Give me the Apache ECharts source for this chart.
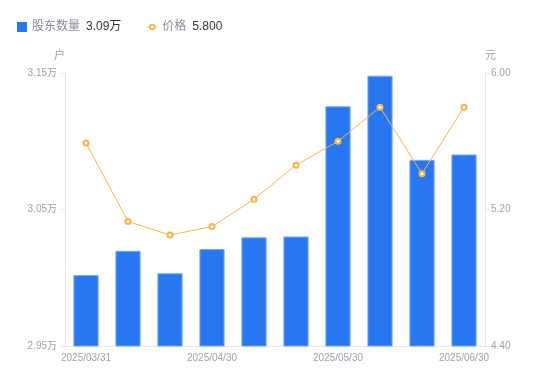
<!DOCTYPE html>
<html>
<head>
<meta charset="utf-8">
<script src="https://cdn.jsdelivr.net/npm/echarts@6/dist/echarts.min.js"></script>
<style>html,body{margin:0;padding:0;background:#fff}#c{width:550px;height:381px}</style>
</head>
<body>
<div id="c"></div>
<script>
var categories = ['2025/03/31','2025/04/10','2025/04/18','2025/04/30','2025/05/09','2025/05/20','2025/05/30','2025/06/10','2025/06/20','2025/06/30'];
var holders = [3.002, 3.0197, 3.0033, 3.021, 3.0296, 3.0302, 3.1256, 3.148, 3.0864, 3.0903];
var prices = [5.59, 5.13, 5.05, 5.10, 5.26, 5.46, 5.60, 5.80, 5.41, 5.80];
var holderTicks = [2.95, 3.15, 0.1];
var priceTicks = [4.4, 6.0, 0.8];
var legendValues = {'股东数量': '3.09万', '价格': '5.800'};

var FONT = '"Liberation Sans", "Noto Sans CJK SC", sans-serif';
var lineIcon = 'path://M0,2.5 H2.2 V3.5 H0 Z M7.8,2.5 H10 V3.5 H7.8 Z M1.8,3 A3.2,3.2 0 1,1 8.2,3 A3.2,3.2 0 1,1 1.8,3 Z M3.4,3 A1.6,1.6 0 1,0 6.6,3 A1.6,1.6 0 1,0 3.4,3 Z';

var chart = echarts.init(document.getElementById('c'), null, {renderer: 'canvas'});
var gray = '#9ea1ad';
chart.setOption({
  animation: false,
  legend: {
    left: 12, top: 16,
    itemWidth: 10, itemHeight: 10, itemGap: 26,
    itemStyle: {borderWidth: 0},
    data: [{name: '股东数量', icon: 'rect', itemStyle: {borderWidth: 0}}, {name: '价格', icon: lineIcon, itemStyle: {borderWidth: 0}}],
    formatter: function (n) { return '{n|' + n + '}{v|' + legendValues[n] + '}'; },
    textStyle: {
      rich: {
        n: {fontSize: 12, color: '#8a8d99', padding: [0, 6, 0, 0], fontFamily: FONT},
        v: {fontSize: 12, color: '#333333', fontFamily: FONT}
      }
    }
  },
  grid: {left: 65, right: 65, top: 73, bottom: 35},
  xAxis: {
    type: 'category',
    data: categories,
    boundaryGap: true,
    axisLine: {lineStyle: {color: '#e6e6e6'}},
    axisTick: {show: false},
    axisLabel: {interval: 2, color: gray, fontSize: 10, margin: 7, fontFamily: FONT}
  },
  yAxis: [{
    type: 'value',
    name: '户',
    nameGap: 12,
    nameTextStyle: {color: gray, fontSize: 11, align: 'right', fontFamily: FONT},
    min: holderTicks[0], max: holderTicks[1], interval: holderTicks[2],
    splitLine: {show: false},
    axisLine: {show: true, lineStyle: {color: '#e6e6e6'}},
    axisTick: {show: true, length: 4, lineStyle: {color: '#e6e6e6'}},
    axisLabel: {color: gray, fontSize: 10, margin: 8, fontFamily: FONT,
      formatter: function (v) { return v.toFixed(2) + '万'; }}
  }, {
    type: 'value',
    name: '元',
    nameGap: 12,
    nameTextStyle: {color: gray, fontSize: 11, align: 'left', fontFamily: FONT},
    min: priceTicks[0], max: priceTicks[1], interval: priceTicks[2],
    splitLine: {show: false},
    axisLine: {show: true, lineStyle: {color: '#e6e6e6'}},
    axisTick: {show: true, length: 4, lineStyle: {color: '#e6e6e6'}},
    axisLabel: {color: gray, fontSize: 10, margin: 6, fontFamily: FONT,
      formatter: function (v) { return v.toFixed(2); }}
  }],
  series: [{
    name: '股东数量',
    type: 'bar',
    yAxisIndex: 0,
    barWidth: '60%',
    data: holders,
    itemStyle: {color: '#2777f2', borderColor: '#7aa9f5', borderWidth: 1}
  }, {
    name: '价格',
    type: 'line',
    yAxisIndex: 1,
    data: prices,
    symbol: 'emptyCircle',
    symbolSize: 5,
    lineStyle: {color: '#fbb43f', width: 1},
    itemStyle: {color: '#fbb43f', borderWidth: 1.5}
  }]
});
</script>
</body>
</html>
